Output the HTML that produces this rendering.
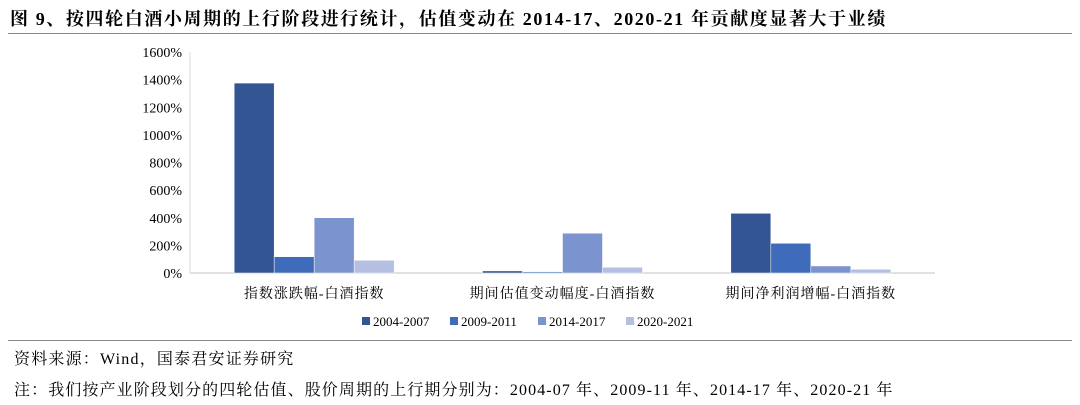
<!DOCTYPE html>
<html><head><meta charset="utf-8"><style>
body{margin:0;width:1080px;height:405px;background:#fff;font-family:"Liberation Serif","Noto Serif CJK SC","Noto Sans CJK SC",serif;position:relative;overflow:hidden}
.t{position:absolute;white-space:nowrap;color:#000}
</style></head><body>
<div class="t" style="left:10px;top:5px;font-size:18px;font-weight:bold;letter-spacing:1.6px">图 9、按四轮白酒小周期的上行阶段进行统计，估值变动在 2014-17、2020-21 年贡献度显著大于业绩</div>
<div style="position:absolute;left:8px;top:33px;width:1064px;height:1px;background:#888"></div>
<svg id="chart" width="1080" height="405" style="position:absolute;left:0;top:0"></svg>
<div style="position:absolute;left:8px;top:340px;width:1064px;height:1px;background:#888"></div>
<div class="t" style="left:14px;top:346px;font-size:16px;letter-spacing:1.2px">资料来源：Wind，国泰君安证券研究</div>
<div class="t" style="left:14px;top:377px;font-size:16px;letter-spacing:1.1px">注：我们按产业阶段划分的四轮估值、股价周期的上行期分别为：2004-07 年、2009-11 年、2014-17 年、2020-21 年</div>
<script>
const categories=["指数涨跌幅-白酒指数","期间估值变动幅度-白酒指数","期间净利润增幅-白酒指数"];
const seriesNames=["2004-2007","2009-2011","2014-2017","2020-2021"];
const s2004=[1375,15,432];
const s2009=[118,8,215];
const s2014=[400,288,51];
const s2020=[92,41,27];
const yTicks=[0,200,400,600,800,1000,1200,1400,1600];
const colors=["#335593","#3F6CBA","#7B93CF","#B4BFE2"];
const values=[s2004,s2009,s2014,s2020];
const ns="http://www.w3.org/2000/svg",svg=document.getElementById("chart");
const x0=190,x1=935,yBase=273,yTop=52,yMax=1600;
const y=v=>yBase-(v/yMax)*(yBase-yTop);
const gw=(x1-x0)/categories.length,bw=40;
function mk(t,a){const e=document.createElementNS(ns,t);for(const k in a)e.setAttribute(k,a[k]);svg.appendChild(e);return e;}
yTicks.forEach(v=>{const t=mk("text",{x:182,y:y(v)+5,"text-anchor":"end","font-size":"14","font-family":"Liberation Serif,serif"});t.textContent=v+"%";

});
const ax=mk("line",{x1:x0,y1:yBase,x2:x1,y2:yBase,stroke:"#d9d9d9","stroke-width":1.5});


const ay=mk("line",{x1:x0,y1:yTop,x2:x0,y2:yBase,stroke:"#d9d9d9","stroke-width":1});


categories.forEach((c,i)=>{const cx=x0+gw*(i+0.5);
values.forEach((s,j)=>{const bx=cx-2*bw+j*bw;const r=mk("rect",{x:bx,y:y(s[i]),width:bw,height:yBase-y(s[i]),fill:colors[j],stroke:"#fff","stroke-width":0.5});

});
const t=mk("text",{x:cx,y:298,"text-anchor":"middle","font-size":"14","letter-spacing":"1","font-family":"Liberation Serif,Noto Serif CJK SC,Noto Sans CJK SC,serif"});t.textContent=c;

});
let lx=362;
seriesNames.forEach((n,j)=>{const r=mk("rect",{x:lx,y:317,width:8,height:8,fill:colors[j]});


const t=mk("text",{x:lx+11,y:326,"font-size":"13","font-family":"Liberation Serif,serif"});t.textContent=n;


lx+=88;});
</script>
</body></html>
